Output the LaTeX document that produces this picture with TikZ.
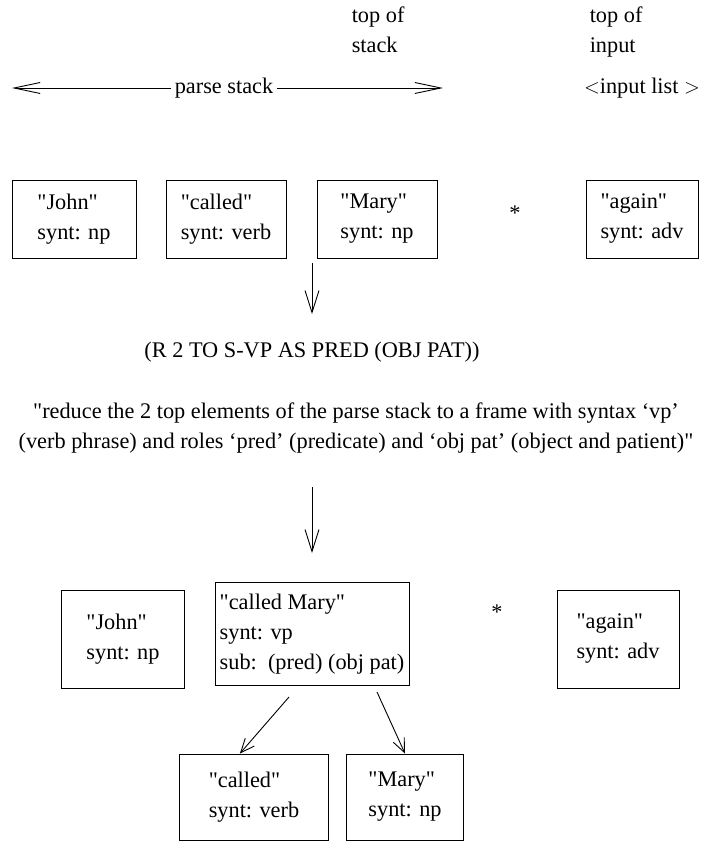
\documentclass[tikz,border=0pt]{standalone}
\usepackage{fontspec}
\setmainfont{Liberation Serif}
\usetikzlibrary{arrows.meta}

\begin{document}
\begin{tikzpicture}[x=1pt,y=-1pt,line width=0.9pt,
  every node/.style={font=\fontsize{22.3}{30}\selectfont},
  frame/.style={draw, align=left, inner sep=0pt},
  bigtip/.style={-{Straight Barb[length=22pt,width=14pt]}},
  stacktip/.style={-{Straight Barb[length=26pt,width=11pt]}},
  subtip/.style={-{Straight Barb[length=14pt,width=12pt]}}]
\useasboundingbox (0,0) rectangle (712,845);
\node[align=left, anchor=north west] (tos) at (348,3) {top of\\stack};
\node[align=left, anchor=north west] (toi) at (586,3) {top of\\input};
\node (ps) at (224,88) {parse stack};
\coordinate (psl) at (12,88);
\coordinate (psr) at (443,88);
\draw[stacktip] (ps) -- (psl);
\draw[stacktip] (ps) -- (psr);
\node (il) at (642,88) {$<$input list $>$};
\node[frame, minimum width=124, minimum height=78] (john) at (74,219) {\textquotedbl John\textquotedbl\\synt: np};
\node[frame, minimum width=120, minimum height=78] (called) at (226,219) {\textquotedbl called\textquotedbl\\synt: verb};
\node[frame, minimum width=120, minimum height=78] (mary) at (377,219) {\textquotedbl Mary\textquotedbl\\synt: np};
\node (star) at (515,213) {*};
\node[frame, minimum width=112, minimum height=78] (again) at (642,219) {\textquotedbl again\textquotedbl\\synt: adv};
\coordinate (a1) at (312,263);
\coordinate (b1) at (312,314);
\draw[bigtip] (a1) -- (b1);
\node (rule) at (312,352) {(R 2 TO S-VP AS PRED (OBJ PAT))};
\node[align=center] (gloss) at (356,428) {\textquotedbl reduce the 2 top elements of the parse stack to a frame with syntax `vp'\\(verb phrase) and roles `pred' (predicate) and `obj pat' (object and patient)\textquotedbl};
\coordinate (a2) at (312,487);
\coordinate (b2) at (312,553);
\draw[bigtip] (a2) -- (b2);
\node[frame, minimum width=123, minimum height=98] (john2) at (123,639) {\textquotedbl John\textquotedbl\\synt: np};
\node[frame, minimum width=194, minimum height=103] (cm) at (312,634) {\textquotedbl called Mary\textquotedbl\\synt: vp\\sub:~~(pred) (obj pat)};
\node (star2) at (497,612) {*};
\node[frame, minimum width=122, minimum height=98] (again2) at (618,639) {\textquotedbl again\textquotedbl\\synt: adv};
\node[frame, minimum width=149, minimum height=86] (called2) at (254,797) {\textquotedbl called\textquotedbl\\synt: verb};
\node[frame, minimum width=117, minimum height=86] (mary2) at (405,797) {\textquotedbl Mary\textquotedbl\\synt: np};
\coordinate (predfoot) at (289,697);
\coordinate (objfoot) at (377,692);
\draw[subtip] (predfoot) -- (called2.108);
\draw[subtip] (objfoot) -- (mary2.north);
\end{tikzpicture}
\end{document}
